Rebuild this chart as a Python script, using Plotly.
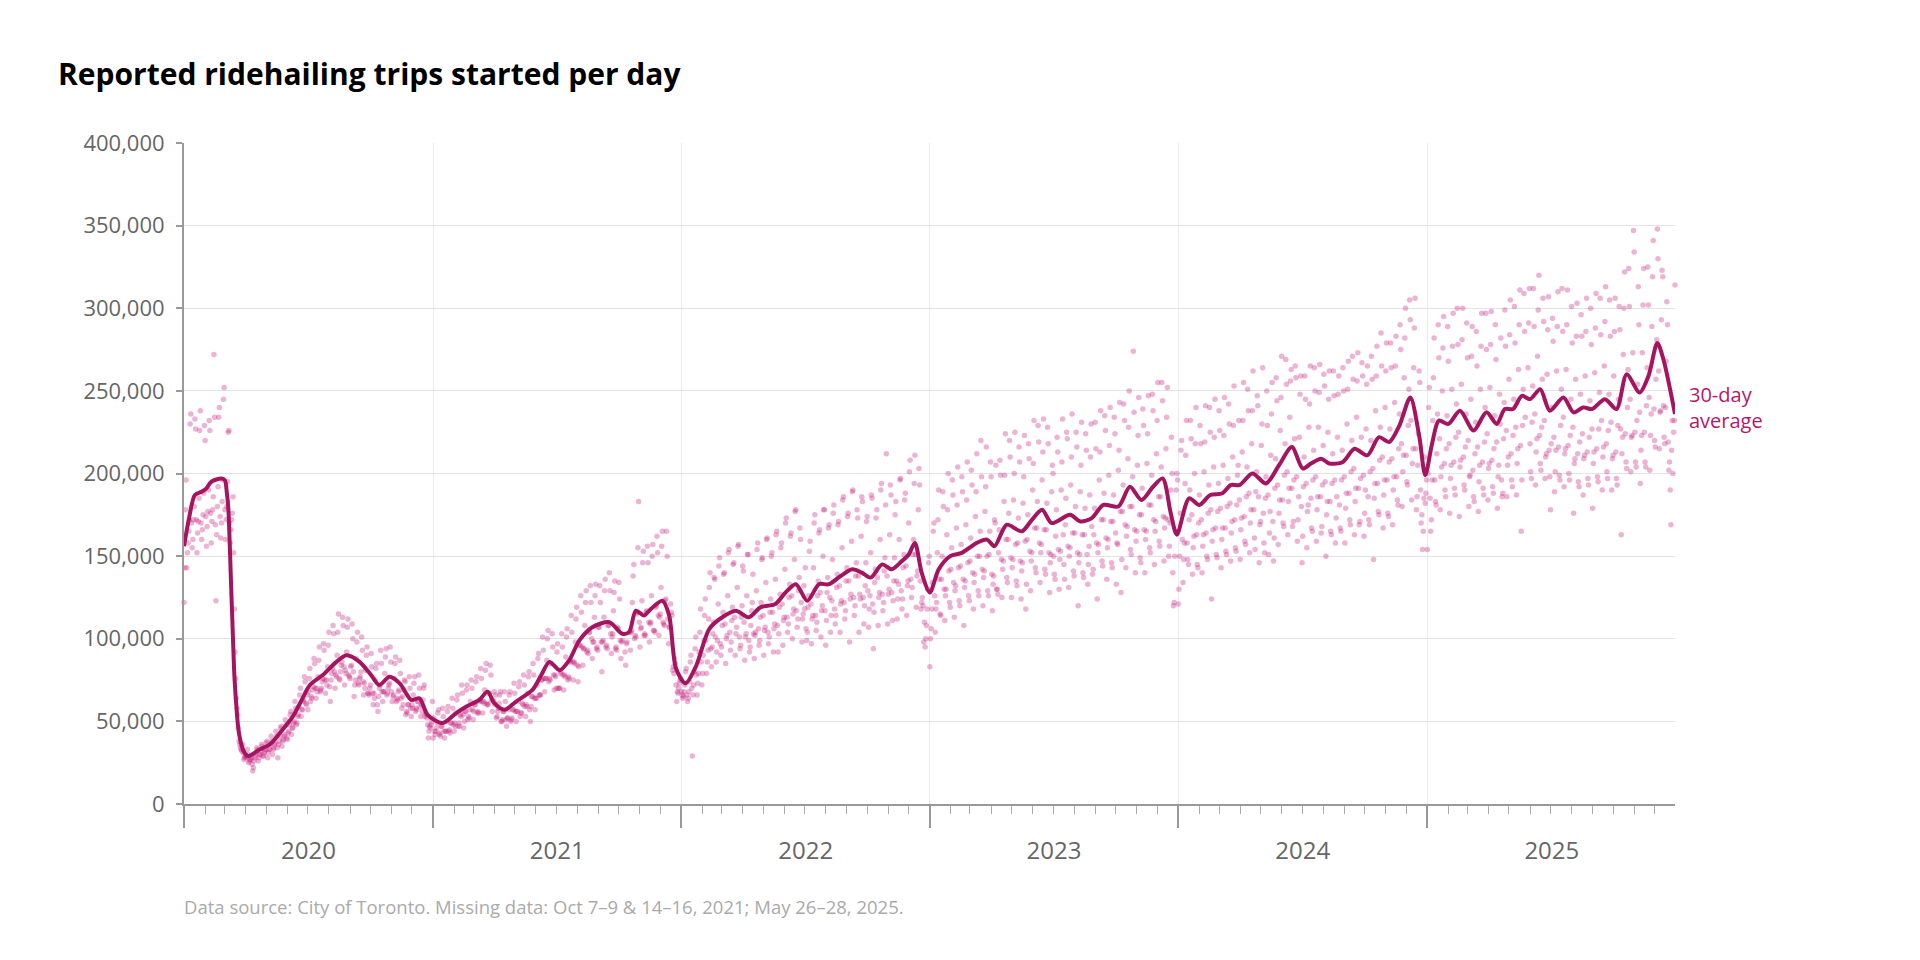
import pandas as pd
import plotly.graph_objects as go

# ---------------- data (daily reported trips, in thousands) ----------------
trips_2020 = [
    122, 143, 178, 196, 143, 152, 158,
    165, 172, 230, 236, 170, 155, 160,
    172, 180, 233, 227, 172, 152, 164,
    171, 185, 226, 238, 170, 160, 166,
    175, 188, 229, 220, 174, 156, 168,
    177, 190, 232, 226, 176, 158, 171,
    178, 186, 272, 234, 169, 123, 163,
    180, 192, 234, 240, 174, 161, 170,
    183, 196, 245, 252, 178, 160, 172,
    180, 195, 225, 226, 170, 158, 166,
    172, 176, 186, 152, 118, 92, 76,
    64, 58, 54, 46, 38, 36, 34,
    33, 32, 36, 31, 27, 28, 29,
    28, 29, 33, 30, 25, 26, 27,
    27, 28, 24, 20, 22, 26, 28,
    29, 31, 34, 33, 26, 28, 30,
    30, 32, 36, 35, 29, 29, 31,
    32, 33, 37, 38, 28, 31, 33,
    33, 36, 41, 38, 30, 33, 34,
    36, 37, 44, 41, 34, 28, 36,
    38, 41, 46, 47, 35, 38, 39,
    41, 42, 51, 48, 40, 39, 43,
    44, 48, 54, 56, 42, 46, 46,
    49, 50, 62, 58, 48, 49, 53,
    54, 59, 66, 70, 53, 57, 57,
    62, 63, 77, 74, 61, 60, 66,
    57, 68, 76, 82, 62, 65, 64,
    69, 71, 88, 85, 70, 64, 70,
    68, 77, 87, 95, 68, 69, 70,
    74, 76, 97, 93, 75, 67, 75,
    72, 83, 96, 104, 71, 62, 75,
    79, 82, 108, 103, 80, 70, 78,
    77, 90, 104, 115, 76, 75, 80,
    84, 86, 113, 108, 83, 72, 81,
    79, 92, 107, 112, 78, 77, 76,
    83, 84, 109, 100, 80, 65, 72,
    75, 88, 98, 104, 73, 72, 76,
    77, 80, 101, 93, 74, 66, 73,
    70, 81, 90, 95, 67, 67, 66,
    70, 72, 91, 83, 67, 60, 67,
    64, 75, 82, 85, 60, 56, 65,
    70, 72, 93, 85, 68, 62, 68,
    68, 79, 89, 94, 66, 67, 70,
    72, 73, 95, 86, 68, 62, 65,
    66, 76, 85, 89, 62, 64, 63,
    68, 69, 87, 79, 64, 58, 65,
    60, 69, 75, 74, 54, 56, 55,
    60, 60, 77, 70, 58, 53, 60,
    58, 66, 73, 77, 56, 58, 57,
    62, 62, 78, 70, 59, 53, 60,
    56, 63, 70, 72, 53, 55, 54,
    52, 48, 40, 44, 47, 46, 48,
    50, 62,
]

trips_2021 = [
    40, 52, 44, 42, 44, 46, 49,
    55, 57, 42, 43, 41, 47, 47,
    58, 53, 44, 40, 44, 44, 50,
    56, 59, 44, 45, 43, 49, 49,
    64, 58, 48, 44, 49, 47, 55,
    63, 66, 47, 49, 47, 54, 53,
    72, 67, 54, 46, 50, 56, 56,
    69, 72, 51, 53, 52, 57, 62,
    75, 70, 57, 51, 56, 60, 60,
    74, 77, 55, 56, 55, 62, 63,
    82, 76, 62, 55, 62, 61, 69,
    81, 85, 60, 61, 60, 67, 67,
    84, 78, 63, 56, 63, 62, 68,
    60, 66, 52, 53, 56, 58, 61,
    66, 68, 50, 50, 51, 56, 56,
    68, 62, 51, 47, 52, 52, 57,
    66, 68, 50, 51, 52, 57, 57,
    73, 67, 56, 50, 56, 56, 62,
    71, 74, 53, 55, 55, 61, 60,
    78, 72, 59, 53, 60, 59, 67,
    77, 80, 57, 50, 59, 65, 65,
    85, 78, 64, 57, 64, 64, 72,
    88, 91, 66, 66, 66, 75, 75,
    101, 93, 76, 68, 76, 76, 87,
    100, 105, 74, 76, 75, 85, 85,
    103, 95, 78, 69, 78, 77, 70,
    92, 97, 70, 70, 70, 79, 80,
    103, 95, 78, 69, 78, 77, 89,
    101, 106, 75, 77, 76, 86, 87,
    114, 104, 86, 75, 86, 85, 98,
    112, 119, 84, 74, 83, 96, 96,
    126, 116, 95, 84, 94, 94, 108,
    122, 129, 92, 93, 91, 104, 104,
    132, 122, 100, 88, 98, 98, 113,
    126, 133, 94, 95, 93, 107, 107,
    132, 122, 98, 80, 98, 99, 113,
    129, 136, 95, 96, 94, 108, 108,
    140, 129, 103, 91, 101, 103, 117,
    128, 135, 94, 95, 93, 107, 106,
    134, 124, 99, 88, 98, 99, None,
    None, None, 92, 84, 97, 98, None,
    None, None, 104, 93, 104, 105, 122,
    138, 145, 100, 102, 101, 115, 116,
    155, 183, 110, 95, 106, 107, 123,
    146, 153, 102, 103, 102, 116, 117,
    156, 146, 110, 98, 109, 110, 126,
    150, 157, 105, 105, 104, 119, 120,
    162, 152, 114, 102, 113, 115, 131,
    156, 165, 110, 109, 108, 123, 124,
    165, 150, 112, 97, 107, 107, 121,
    116, 114, 81, 83, 79, 88, 85,
    72, 62, 68, 67, 70, 73, 75,
    76,
]

trips_2022 = [
    68, 66, 64, 65, 68, 72, 80,
    82, 66, 62, 64, 68, 74, 86,
    90, 70, 29, 66, 72, 80, 94,
    101, 78, 66, 73, 79, 92, 104,
    118, 86, 72, 79, 90, 99, 114,
    124, 99, 79, 86, 93, 112, 131,
    140, 94, 83, 95, 103, 110, 137,
    136, 101, 86, 92, 99, 121, 144,
    149, 97, 90, 95, 108, 116, 139,
    140, 109, 85, 100, 102, 126, 152,
    154, 104, 93, 98, 111, 119, 145,
    146, 113, 90, 103, 107, 131, 156,
    157, 101, 94, 96, 113, 120, 144,
    141, 110, 87, 101, 103, 126, 151,
    151, 99, 92, 95, 108, 117, 122,
    139, 103, 88, 102, 104, 129, 154,
    158, 106, 96, 99, 113, 122, 148,
    149, 114, 90, 105, 107, 134, 160,
    161, 104, 97, 101, 116, 124, 150,
    152, 116, 92, 106, 109, 136, 163,
    165, 108, 92, 103, 119, 127, 155,
    158, 121, 96, 111, 113, 142, 170,
    173, 113, 104, 109, 125, 133, 162,
    164, 126, 100, 115, 118, 148, 177,
    178, 117, 107, 112, 129, 137, 167,
    160, 122, 98, 112, 115, 132, 118,
    143, 106, 99, 104, 119, 126, 153,
    159, 121, 97, 112, 114, 143, 170,
    175, 114, 105, 110, 126, 135, 164,
    166, 128, 101, 117, 120, 150, 178,
    178, 117, 96, 111, 128, 137, 167,
    169, 125, 104, 114, 123, 148, 176,
    181, 118, 109, 114, 131, 139, 169,
    171, 132, 104, 121, 123, 155, 184,
    186, 122, 112, 117, 135, 143, 174,
    176, 135, 98, 124, 127, 159, 189,
    190, 125, 114, 120, 138, 146, 178,
    173, 138, 104, 127, 124, 162, 186,
    183, 125, 109, 120, 132, 146, 171,
    174, 129, 107, 118, 126, 152, 187,
    185, 121, 94, 116, 134, 142, 173,
    178, 137, 108, 125, 128, 160, 190,
    194, 127, 117, 122, 141, 149, 181,
    212, 138, 109, 127, 130, 163, 193,
    187, 128, 111, 123, 135, 149, 175,
    183, 135, 112, 124, 133, 160, 196,
    197, 129, 118, 124, 143, 151, 184,
    188, 144, 114, 132, 135, 170, 201,
    208, 136, 125, 131, 151, 160, 194,
    211, 151, 119, 138, 141, 178, 203,
    193, 135, 118, 122, 125, 120, 98,
    110, 95, 100, 108, 118, 130, 146,
    150,
]

trips_2023 = [
    83, 100, 106, 118, 134, 165, 170,
    126, 104, 118, 122, 152, 172, 190,
    136, 115, 114, 136, 150, 189, 180,
    130, 111, 126, 130, 163, 178, 200,
    141, 122, 119, 142, 155, 196, 187,
    134, 113, 129, 132, 167, 181, 204,
    143, 123, 120, 144, 157, 198, 189,
    136, 108, 131, 135, 169, 184, 207,
    146, 126, 123, 147, 161, 202, 193,
    140, 118, 134, 139, 174, 189, 212,
    150, 129, 126, 150, 165, 220, 198,
    142, 120, 137, 141, 177, 192, 216,
    150, 129, 126, 151, 165, 207, 198,
    139, 117, 133, 138, 172, 170, 205,
    130, 130, 127, 152, 166, 208, 199,
    148, 125, 142, 147, 183, 199, 224,
    160, 137, 134, 160, 176, 220, 210,
    149, 125, 143, 148, 184, 200, 225,
    157, 135, 132, 158, 173, 216, 207,
    147, 124, 141, 146, 182, 198, 223,
    159, 118, 133, 160, 175, 218, 209,
    153, 129, 147, 152, 190, 206, 232,
    167, 143, 140, 167, 183, 229, 219,
    158, 134, 152, 157, 196, 213, 233,
    166, 142, 139, 166, 182, 228, 218,
    152, 128, 146, 151, 189, 205, 200,
    150, 139, 136, 162, 178, 222, 213,
    154, 130, 148, 153, 190, 207, 233,
    163, 145, 136, 169, 185, 225, 221,
    156, 131, 150, 155, 193, 210, 236,
    164, 141, 138, 164, 180, 225, 216,
    152, 120, 146, 151, 189, 205, 231,
    163, 140, 137, 163, 179, 224, 214,
    151, 133, 145, 156, 187, 210, 230,
    168, 139, 142, 163, 179, 231, 215,
    158, 124, 152, 157, 196, 213, 238,
    172, 147, 144, 172, 188, 235, 226,
    161, 136, 155, 160, 199, 217, 240,
    171, 146, 143, 171, 187, 234, 224,
    164, 133, 158, 157, 202, 214, 243,
    177, 128, 148, 177, 193, 242, 232,
    169, 143, 162, 168, 209, 228, 250,
    180, 154, 151, 180, 198, 274, 237,
    166, 140, 159, 165, 205, 223, 246,
    175, 149, 146, 175, 191, 239, 229,
    166, 140, 160, 165, 206, 224, 247,
    181, 155, 152, 181, 199, 248, 238,
    172, 145, 165, 171, 212, 232, 255,
    186, 159, 156, 186, 204, 255, 244,
    174, 147, 167, 173, 215, 234, 252,
    172, 150, 156, 170, 190, 222, 200,
    140, 120, 122, 150, 165, 190, 200,
    196,
]

trips_2024 = [
    121, 130, 150, 176, 214, 220, 160,
    134, 148, 158, 194, 211, 232, 158,
    148, 145, 172, 190, 232, 221, 175,
    139, 155, 162, 200, 218, 240, 163,
    145, 143, 170, 187, 229, 218, 172,
    140, 156, 163, 201, 219, 241, 164,
    150, 148, 176, 193, 240, 225, 178,
    124, 159, 166, 204, 222, 245, 167,
    151, 149, 177, 194, 238, 226, 179,
    143, 160, 167, 205, 223, 246, 167,
    153, 151, 180, 197, 242, 230, 182,
    147, 164, 171, 210, 229, 253, 172,
    155, 153, 181, 199, 205, 232, 184,
    148, 166, 173, 213, 232, 255, 174,
    159, 157, 186, 204, 251, 238, 188,
    152, 170, 178, 218, 238, 262, 178,
    161, 154, 189, 201, 247, 241, 186,
    146, 169, 171, 217, 230, 264, 176,
    158, 152, 185, 198, 250, 229, 187,
    151, 164, 177, 211, 236, 255, 171,
    147, 161, 191, 209, 258, 244, 193,
    157, 176, 184, 226, 246, 271, 184,
    170, 168, 199, 218, 269, 254, 201,
    163, 183, 191, 234, 256, 263, 191,
    168, 171, 196, 221, 265, 258, 198,
    159, 172, 186, 222, 248, 259, 180,
    146, 162, 192, 210, 259, 245, 194,
    155, 177, 181, 228, 242, 265, 185,
    167, 165, 196, 214, 264, 250, 198,
    159, 178, 186, 228, 249, 266, 186,
    164, 168, 193, 217, 260, 253, 195,
    150, 175, 183, 225, 245, 262, 183,
    165, 163, 194, 212, 262, 247, 196,
    158, 173, 186, 222, 248, 259, 181,
    167, 165, 196, 214, 264, 250, 198,
    158, 179, 188, 230, 251, 268, 188,
    172, 169, 201, 220, 271, 257, 203,
    163, 183, 191, 234, 256, 273, 191,
    169, 171, 197, 222, 267, 259, 199,
    162, 176, 190, 227, 254, 265, 186,
    172, 169, 201, 220, 271, 257, 203,
    148, 185, 194, 238, 259, 277, 194,
    177, 175, 208, 228, 285, 265, 210,
    167, 187, 196, 240, 262, 279, 196,
    176, 174, 207, 227, 279, 264, 209,
    169, 190, 198, 243, 265, 283, 198,
    184, 181, 215, 236, 290, 275, 218,
    180, 201, 211, 258, 282, 300, 211,
    195, 193, 229, 251, 305, 293, 232,
    184, 206, 215, 264, 288, 306, 215,
    178, 186, 205, 224, 262, 255, 190,
    170, 175, 154, 165, 185, 210, 182,
    188, 196,
]

trips_2025 = [
    154, 200, 240, 252, 185, 165, 172,
    196, 232, 258, 282, 196, 183, 181,
    212, 236, 290, 270, 221, 178, 198,
    204, 250, 276, 295, 206, 190, 186,
    215, 235, 289, 268, 218, 176, 197,
    205, 251, 277, 297, 207, 191, 187,
    222, 242, 300, 278, 225, 174, 204,
    208, 254, 281, 300, 210, 193, 190,
    216, 236, 291, 270, 220, 180, 198,
    199, 245, 271, 289, 202, 186, 183,
    212, 231, 286, 265, 216, 177, 195,
    205, 251, 277, 297, 207, 191, 187,
    219, 240, 297, 275, 224, 184, 203,
    206, 252, 278, 298, 208, 192, 188,
    215, 235, 290, 269, 219, 179, 198,
    205, 248, 230, 282, 196, 186, 188,
    221, 243, 299, 277, 226, 186, 205,
    210, 257, 284, 305, 212, 196, 192,
    223, 245, 301, 279, 228, 187, 206,
    215, 263, 290, 311, 217, 165, 196,
    229, 251, 309, 286, 234, None, None,
    None, 264, 291, 312, 218, 201, 197,
    231, 253, 312, 289, 236, 193, 213,
    221, 271, 299, 320, 223, 206, 202,
    228, 257, 306, 292, 232, 197, 210,
    212, 260, 287, 307, 214, 198, 178,
    218, 240, 294, 280, 222, 189, 201,
    214, 262, 289, 310, 216, 199, 196,
    229, 251, 312, 286, 234, 192, 212,
    215, 263, 290, 311, 217, 200, 196,
    223, 245, 301, 279, 228, 176, 206,
    209, 257, 283, 303, 212, 195, 192,
    219, 248, 296, 283, 224, 187, 209,
    211, 259, 286, 306, 213, 197, 193,
    222, 244, 300, 278, 227, 179, 206,
    213, 261, 288, 309, 215, 198, 195,
    227, 249, 306, 284, 232, 190, 210,
    216, 265, 292, 313, 218, 201, 197,
    226, 248, 305, 283, 231, 190, 209,
    211, 259, 286, 306, 213, 197, 193,
    229, 245, 301, 287, 227, 163, 212,
    222, 272, 300, 322, 224, 207, 203,
    240, 263, 324, 301, 245, 201, 222,
    223, 273, 347, 334, 225, 207, 204,
    232, 254, 313, 290, 237, 194, 214,
    223, 273, 302, 324, 225, 207, 204,
    241, 264, 325, 302, 246, 202, 223,
    236, 289, 319, 341, 239, 220, 216,
    257, 281, 348, 330, 262, 215, 237,
    238, 293, 323, 319, 241, 222, 218,
    240, 268, 304, 290, 219, 202, 207,
    190, 169, 214, 232, 200, 225, 232,
    314,
]

# 30-day average (thousands)
avg_dates = [
    "2020-01-01", "2020-01-08", "2020-01-17", "2020-01-27", "2020-02-03", "2020-02-10",
    "2020-02-25", "2020-03-01", "2020-03-04", "2020-03-06", "2020-03-08", "2020-03-10",
    "2020-03-13", "2020-03-15", "2020-03-18", "2020-03-21", "2020-03-26", "2020-03-30",
    "2020-04-04", "2020-04-21", "2020-05-06", "2020-05-21", "2020-06-09", "2020-06-22",
    "2020-07-04", "2020-07-23", "2020-08-12", "2020-08-27", "2020-09-15", "2020-10-02",
    "2020-10-14", "2020-10-29", "2020-11-13", "2020-11-30", "2020-12-12", "2020-12-24",
    "2021-01-15", "2021-02-04", "2021-02-19", "2021-03-10", "2021-03-22", "2021-04-01",
    "2021-04-16", "2021-05-03", "2021-05-27", "2021-06-09", "2021-06-21", "2021-07-06",
    "2021-07-20", "2021-08-04", "2021-08-23", "2021-09-17", "2021-10-06", "2021-10-16",
    "2021-10-26", "2021-11-07", "2021-11-17", "2021-12-04", "2021-12-14", "2021-12-24",
    "2022-01-07", "2022-01-22", "2022-02-11", "2022-03-02", "2022-03-22", "2022-04-10",
    "2022-04-27", "2022-05-19", "2022-06-03", "2022-06-18", "2022-07-05", "2022-07-22",
    "2022-08-06", "2022-08-23", "2022-09-09", "2022-09-23", "2022-10-06", "2022-10-23",
    "2022-11-06", "2022-11-21", "2022-12-01", "2022-12-10", "2022-12-20", "2023-01-01",
    "2023-01-14", "2023-01-31", "2023-02-17", "2023-03-11", "2023-03-26", "2023-04-06",
    "2023-04-24", "2023-05-16", "2023-05-31", "2023-06-15", "2023-06-29", "2023-07-26",
    "2023-08-10", "2023-08-27", "2023-09-13", "2023-10-05", "2023-10-22", "2023-11-08",
    "2023-11-25", "2023-12-09", "2023-12-21", "2023-12-30", "2024-01-17", "2024-02-01",
    "2024-02-17", "2024-03-06", "2024-03-18", "2024-03-31", "2024-04-19", "2024-05-09",
    "2024-05-28", "2024-06-16", "2024-07-02", "2024-07-14", "2024-07-29", "2024-08-10",
    "2024-08-30", "2024-09-16", "2024-10-05", "2024-10-22", "2024-11-06", "2024-11-21",
    "2024-12-07", "2024-12-20", "2024-12-29", "2025-01-08", "2025-01-18", "2025-02-01",
    "2025-02-18", "2025-03-10", "2025-03-29", "2025-04-13", "2025-04-25", "2025-05-07",
    "2025-05-20", "2025-06-01", "2025-06-16", "2025-06-30", "2025-07-20", "2025-08-04",
    "2025-08-18", "2025-08-31", "2025-09-19", "2025-10-06", "2025-10-21", "2025-11-09",
    "2025-11-22", "2025-12-05", "2025-12-14", "2025-12-31",
]
avg_values = [
    156, 172, 187, 189, 191, 195,
    197, 196, 188, 180, 160, 135,
    100, 78, 59, 45, 35, 31,
    29, 33, 36, 43, 53, 63,
    72, 78, 86, 90, 86, 78,
    72, 77, 73, 63, 64, 54,
    49, 55, 59, 63, 68, 61,
    57, 62, 69, 78, 86, 81,
    87, 99, 107, 110, 103, 104,
    117, 114, 118, 123, 114, 82,
    73, 83, 106, 113, 117, 113,
    119, 121, 128, 133, 123, 133,
    133, 138, 142, 140, 137, 145,
    142, 147, 151, 158, 140, 128,
    142, 150, 152, 158, 160, 156,
    169, 165, 172, 178, 170, 175,
    171, 173, 181, 180, 192, 184,
    192, 197, 176, 163, 185, 181,
    187, 188, 193, 193, 200, 194,
    205, 216, 203, 206, 209, 206,
    207, 215, 211, 222, 219, 229,
    246, 223, 199, 218, 232, 230,
    238, 226, 237, 230, 239, 239,
    247, 245, 251, 238, 246, 237,
    240, 239, 245, 239, 260, 249,
    259, 279, 269, 236,
]

x_tick_start = "2020-01-01"
x_end = "2025-12-31"
y_max = 400000
title_text = "Reported ridehailing trips started per day"
source_text = "Data source: City of Toronto. Missing data: Oct 7–9 &amp; 14–16, 2021; May 26–28, 2025."
label_text = "30-day<br>average"

# ---------------- assemble daily series ----------------
years = {2020: trips_2020, 2021: trips_2021, 2022: trips_2022,
         2023: trips_2023, 2024: trips_2024, 2025: trips_2025}
day_dates, day_vals = [], []
for yr, vals in years.items():
    n_days = 366 if yr % 4 == 0 else 365
    assert len(vals) == n_days, (yr, len(vals))
    d = pd.date_range(f"{yr}-01-01", periods=len(vals), freq="D")
    day_dates.extend(d)
    day_vals.extend([None if v is None else v * 1000 for v in vals])

assert len(avg_dates) == len(avg_values), (len(avg_dates), len(avg_values))
avg_y = [v * 1000 for v in avg_values]

LINE = "#a5145f"
FONT = "Open Sans"

fig = go.Figure()
fig.add_trace(go.Scatter(
    x=day_dates, y=day_vals, mode="markers",
    marker=dict(size=5.5, color="rgba(197,27,125,0.33)", line=dict(width=0)),
    cliponaxis=False, hoverinfo="skip", showlegend=False,
))
fig.add_trace(go.Scatter(
    x=avg_dates, y=avg_y, mode="lines",
    line=dict(color=LINE, width=4, shape="spline", smoothing=0.8),
    cliponaxis=False, showlegend=False,
))

fig.update_layout(
    width=1920, height=960,
    margin=dict(l=184, r=245, t=143, b=156),
    paper_bgcolor="white", plot_bgcolor="white",
    font=dict(family=FONT, color="#666"),
    title=dict(text=title_text, x=58 / 1920, xanchor="left", xref="container",
               y=1 - 74 / 960, yanchor="middle", yref="container",
               font=dict(family=FONT, size=30, color="#000", weight=700)),
)
fig.update_xaxes(
    type="date", range=[x_tick_start, x_end],
    tick0=x_tick_start, dtick="M12", tickformat="%Y", ticklabelmode="period",
    ticks="outside", ticklen=22, tickwidth=1.5, tickcolor="#999",
    showline=True, linecolor="#999", linewidth=2,
    showgrid=True, gridcolor="#ececec", gridwidth=1,
    zeroline=False,
    tickfont=dict(family=FONT, size=24, color="#666"),
    ticklabelstandoff=2,
    minor=dict(dtick="M1", tick0=x_tick_start, ticks="outside", ticklen=8,
               tickcolor="#aaa", tickwidth=1, showgrid=False),
)
fig.update_yaxes(
    range=[0, y_max], dtick=50000, tickformat=",",
    ticks="outside", ticklen=6, tickcolor="#999", tickwidth=1.5,
    showline=True, linecolor="#999", linewidth=2,
    showgrid=True, gridcolor="#e3e3e3", gridwidth=1,
    zeroline=False,
    tickfont=dict(family=FONT, size=22, color="#666"),
    ticklabelstandoff=7,
)

fig.add_annotation(
    x=avg_dates[-1], y=avg_y[-1], xref="x", yref="y",
    text=label_text, showarrow=False, xanchor="left", yanchor="middle",
    xshift=12, yshift=7, align="left",
    font=dict(family=FONT, size=20, color="#b3186b"),
)
fig.add_annotation(
    x=0, y=(804 - 906) / 661, xref="paper", yref="paper",
    text=source_text, showarrow=False, xanchor="left", yanchor="middle",
    xshift=-2,
    font=dict(family=FONT, size=18.5, color="#aaa"),
)

fig.write_html("out.html")
